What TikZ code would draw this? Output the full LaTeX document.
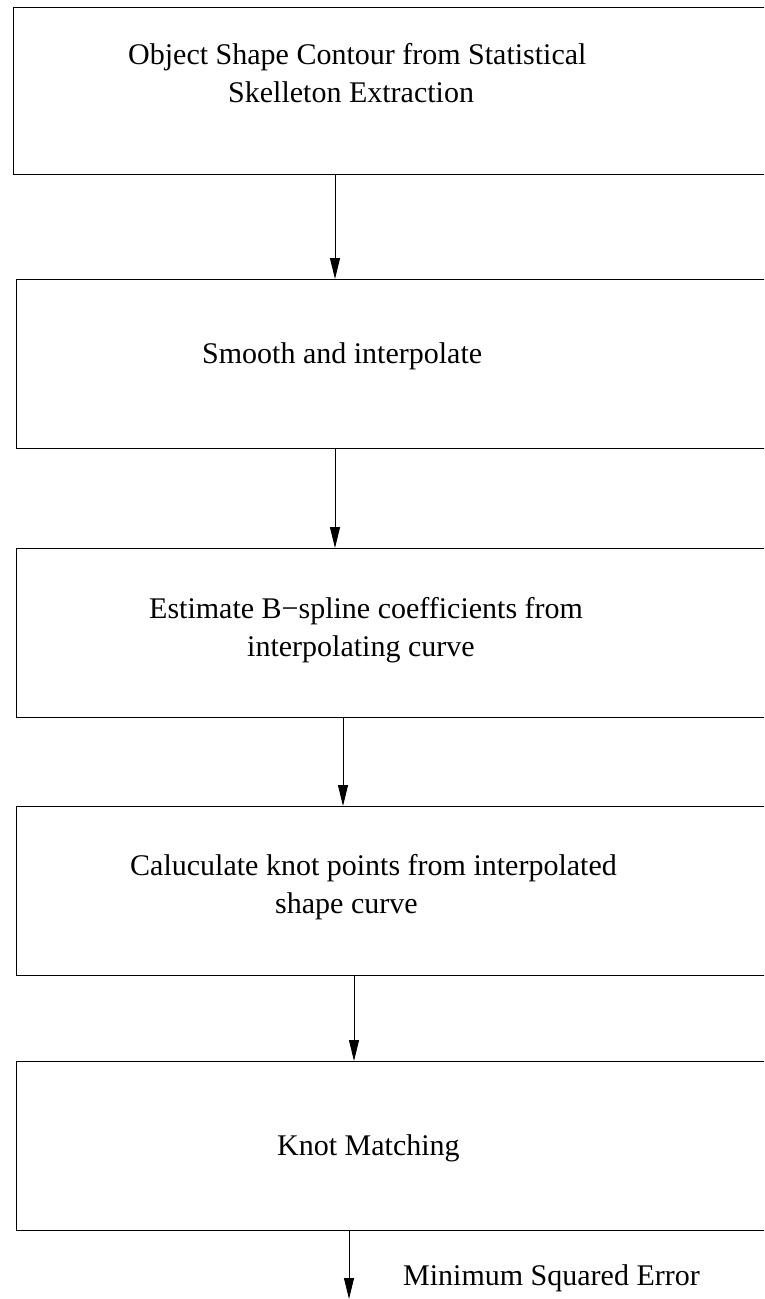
\documentclass[tikz,border=0pt]{standalone}
\usepackage{fontspec}
\setmainfont{Liberation Serif}
\usetikzlibrary{arrows.meta}
\begin{document}
\begin{tikzpicture}[x=1pt,y=-1pt,
  box/.style={draw, line width=1.4pt, rectangle, minimum width=820pt, anchor=north west, inner sep=0pt},
  lbl/.style={anchor=base west, inner sep=0pt, font=\fontsize{30}{36}\selectfont},
  arr/.style={line width=0.9pt, -{Triangle[length=21pt,width=10pt]}}]
\useasboundingbox (0,0) rectangle (764,1299);
\clip (0,0) rectangle (764,1299);
\fill[white] (0,0) rectangle (764,1299);
% boxes
\node[box, minimum height=167pt] (b1) at (12.7,7) {};
\node[box, minimum height=169pt] (b2) at (15.7,279) {};
\node[box, minimum height=168.5pt] (b3) at (15.7,548) {};
\node[box, minimum height=169pt] (b4) at (15.7,806) {};
\node[box, minimum height=168.5pt] (b5) at (15.7,1061) {};
% labels
\node[lbl] (t1a) at (128,64) {Object Shape Contour from Statistical};
\node[lbl] (t1b) at (228,102) {Skelleton Extraction};
\node[lbl] (t2) at (202,363) {Smooth and interpolate};
\node[lbl] (t3a) at (149,618) {Estimate B−spline coefficients from};
\node[lbl] (t3b) at (247,656) {interpolating curve};
\node[lbl] (t4a) at (130,875) {Caluculate knot points from interpolated};
\node[lbl] (t4b) at (275,913) {shape curve};
\node[lbl] (t5) at (277,1155) {Knot Matching};
\node[lbl] (mse) at (403,1285) {Minimum Squared Error};
% arrows
\coordinate (x1) at (335,0);
\coordinate (x2) at (335,0);
\coordinate (x3) at (343,0);
\coordinate (x4) at (354,0);
\coordinate (endpt) at (349,1299);
\draw[arr] (x1 |- b1.south) -- (x1 |- b2.north);
\draw[arr] (x2 |- b2.south) -- (x2 |- b3.north);
\draw[arr] (x3 |- b3.south) -- (x3 |- b4.north);
\draw[arr] (x4 |- b4.south) -- (x4 |- b5.north);
\draw[arr] (endpt |- b5.south) -- (endpt);
\end{tikzpicture}
\end{document}
